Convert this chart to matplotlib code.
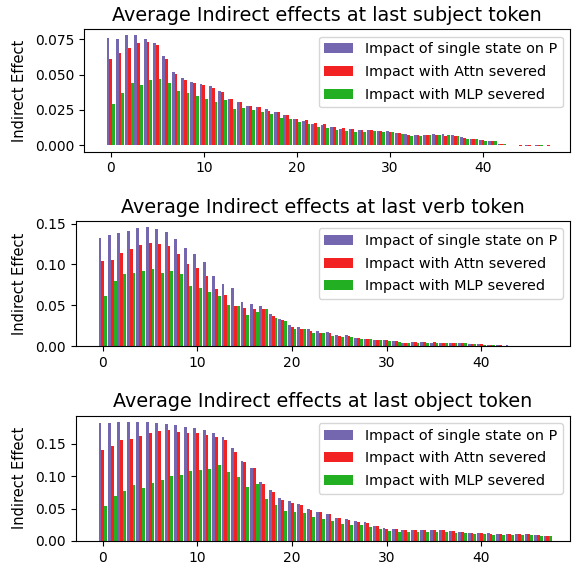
import numpy as np
import matplotlib
matplotlib.use("Agg")
import matplotlib.pyplot as plt

layers = np.arange(48)

labels = ['Impact of single state on P', 'Impact with Attn severed', 'Impact with MLP severed']
colors = ['#7566b0', '#f22222', '#22b022']
titles = ['Average Indirect effects at last subject token',
          'Average Indirect effects at last verb token',
          'Average Indirect effects at last object token']

# last subject token
subj_single = [0.0761, 0.0752, 0.0781, 0.0779, 0.0752, 0.0726, 0.0630, 0.0518, 0.0478, 0.0450,
               0.0433, 0.0419, 0.0381, 0.0327, 0.0303, 0.0275, 0.0268, 0.0258, 0.0232, 0.0213,
               0.0185, 0.0173, 0.0151, 0.0142, 0.0126, 0.0114, 0.0114, 0.0107, 0.0104, 0.0100,
               0.0100, 0.0088, 0.0076, 0.0069, 0.0071, 0.0078, 0.0076, 0.0069, 0.0055, 0.0047,
               0.0033, 0.0028, 0.0007, 0.0001, -0.0002, -0.0003, -0.0004, -0.0002]
subj_attn = [0.0613, 0.0653, 0.0689, 0.0722, 0.0729, 0.0710, 0.0613, 0.0504, 0.0464, 0.0438,
             0.0424, 0.0407, 0.0379, 0.0327, 0.0308, 0.0279, 0.0268, 0.0244, 0.0232, 0.0211,
             0.0187, 0.0178, 0.0156, 0.0147, 0.0130, 0.0121, 0.0114, 0.0107, 0.0104, 0.0100,
             0.0095, 0.0085, 0.0069, 0.0069, 0.0071, 0.0073, 0.0066, 0.0066, 0.0052, 0.0047,
             0.0033, 0.0028, 0.0007, 0.0000, -0.0003, -0.0005, -0.0007, -0.0003]
subj_mlp = [0.0291, 0.0371, 0.0440, 0.0426, 0.0461, 0.0468, 0.0440, 0.0386, 0.0371, 0.0350,
            0.0329, 0.0305, 0.0322, 0.0256, 0.0263, 0.0249, 0.0234, 0.0218, 0.0194, 0.0187,
            0.0166, 0.0149, 0.0128, 0.0123, 0.0109, 0.0102, 0.0095, 0.0095, 0.0097, 0.0092,
            0.0090, 0.0081, 0.0066, 0.0066, 0.0071, 0.0071, 0.0069, 0.0066, 0.0047, 0.0043,
            0.0031, 0.0028, 0.0007, 0.0001, -0.0001, -0.0002, -0.0004, -0.0002]

# last verb token
verb_single = [0.1325, 0.1357, 0.1386, 0.1415, 0.1443, 0.1460, 0.1439, 0.1402, 0.1307, 0.1197,
               0.1128, 0.1033, 0.0857, 0.0763, 0.0709, 0.0541, 0.0517, 0.0492, 0.0394, 0.0332,
               0.0254, 0.0230, 0.0205, 0.0181, 0.0168, 0.0135, 0.0135, 0.0094, 0.0086, 0.0074,
               0.0074, 0.0057, 0.0041, 0.0049, 0.0045, 0.0041, 0.0041, 0.0041, 0.0037, 0.0025,
               0.0020, 0.0012, 0.0008, 0.0008, 0.0004, 0.0001, 0.0004, 0.0004]
verb_attn = [0.1037, 0.1058, 0.1144, 0.1189, 0.1242, 0.1258, 0.1246, 0.1226, 0.1132, 0.1009,
             0.0959, 0.0857, 0.0701, 0.0623, 0.0496, 0.0471, 0.0459, 0.0455, 0.0369, 0.0316,
             0.0234, 0.0213, 0.0181, 0.0164, 0.0164, 0.0127, 0.0127, 0.0094, 0.0086, 0.0074,
             0.0070, 0.0057, 0.0041, 0.0045, 0.0049, 0.0045, 0.0041, 0.0041, 0.0037, 0.0025,
             0.0020, 0.0012, 0.0008, 0.0004, 0.0004, 0.0001, 0.0004, 0.0004]
verb_mlp = [0.0615, 0.0800, 0.0886, 0.0898, 0.0914, 0.0947, 0.0894, 0.0923, 0.0882, 0.0742,
            0.0717, 0.0664, 0.0619, 0.0500, 0.0496, 0.0385, 0.0422, 0.0455, 0.0344, 0.0308,
            0.0213, 0.0210, 0.0160, 0.0160, 0.0127, 0.0115, 0.0115, 0.0086, 0.0082, 0.0070,
            0.0062, 0.0053, 0.0041, 0.0041, 0.0041, 0.0041, 0.0041, 0.0037, 0.0033, 0.0020,
            0.0016, 0.0012, 0.0004, 0.0004, 0.0001, 0.0001, 0.0004, 0.0004]

# last object token
obj_single = [0.1815, 0.1825, 0.1830, 0.1830, 0.1841, 0.1841, 0.1825, 0.1799, 0.1784, 0.1763,
              0.1737, 0.1706, 0.1670, 0.1598, 0.1427, 0.1241, 0.1132, 0.0915, 0.0791, 0.0656,
              0.0610, 0.0563, 0.0496, 0.0450, 0.0424, 0.0352, 0.0336, 0.0305, 0.0290, 0.0227,
              0.0207, 0.0191, 0.0165, 0.0165, 0.0170, 0.0170, 0.0165, 0.0155, 0.0140, 0.0129,
              0.0124, 0.0119, 0.0109, 0.0109, 0.0103, 0.0103, 0.0093, 0.0072]
obj_attn = [0.1411, 0.1458, 0.1561, 0.1571, 0.1624, 0.1660, 0.1701, 0.1706, 0.1680, 0.1670,
            0.1660, 0.1629, 0.1608, 0.1556, 0.1380, 0.1225, 0.1127, 0.0884, 0.0760, 0.0636,
            0.0579, 0.0553, 0.0480, 0.0450, 0.0424, 0.0347, 0.0320, 0.0295, 0.0284, 0.0227,
            0.0191, 0.0181, 0.0170, 0.0165, 0.0165, 0.0165, 0.0165, 0.0150, 0.0134, 0.0129,
            0.0119, 0.0114, 0.0103, 0.0103, 0.0103, 0.0103, 0.0093, 0.0072]
obj_mlp = [0.0532, 0.0693, 0.0770, 0.0864, 0.0817, 0.0900, 0.0941, 0.0997, 0.1024, 0.1075,
           0.1101, 0.1117, 0.1168, 0.1065, 0.0988, 0.0838, 0.0884, 0.0646, 0.0558, 0.0465,
           0.0450, 0.0430, 0.0377, 0.0336, 0.0310, 0.0259, 0.0243, 0.0243, 0.0222, 0.0186,
           0.0160, 0.0145, 0.0140, 0.0140, 0.0140, 0.0140, 0.0140, 0.0129, 0.0119, 0.0109,
           0.0103, 0.0098, 0.0098, 0.0098, 0.0093, 0.0088, 0.0083, 0.0072]

panels = [(subj_single, subj_attn, subj_mlp),
          (verb_single, verb_attn, verb_mlp),
          (obj_single, obj_attn, obj_mlp)]

# axes boxes in figure fractions (left, bottom, width, height)
boxes = [(0.147, 0.7315, 0.848, 0.2166),
         (0.1323, 0.3876, 0.8625, 0.2212),
         (0.1323, 0.0425, 0.8625, 0.2218)]

fig = plt.figure(figsize=(5.73, 5.65), dpi=100)

w = 0.3
for i, series in enumerate(panels):
    ax = fig.add_axes(boxes[i])
    for j, vals in enumerate(series):
        ax.bar(layers + (j - 1) * w, vals, width=w, color=colors[j], label=labels[j])
    ax.set_title(titles[i], fontsize=13.8)
    ax.set_ylabel('Indirect Effect', fontsize=10.5, labelpad=6)
    ax.set_xlim(-2.85, 49.35)
    ax.legend(loc='upper right', fontsize=10.4, labelspacing=0.6)

plt.savefig("out.png", dpi=100)
